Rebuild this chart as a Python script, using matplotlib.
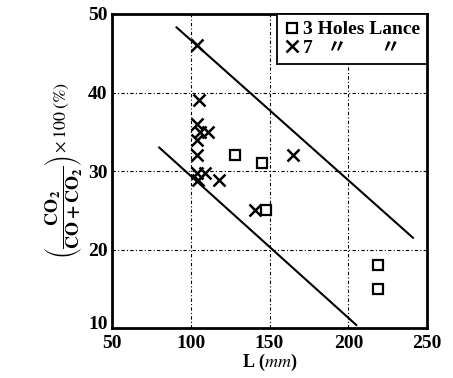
import numpy as np
import matplotlib
matplotlib.use('Agg')
import matplotlib.pyplot as plt
import matplotlib.transforms as mtransforms
from matplotlib.lines import Line2D

plt.rcParams['font.family'] = ['Liberation Serif', 'Noto Sans CJK JP', 'DejaVu Sans']
plt.rcParams['mathtext.fontset'] = 'stix'

# 3 holes lance (squares)
L3 = [128, 145, 148, 219, 219]
r3 = [32, 31, 25, 18, 15]

# 7 holes lance (crosses)
L7 = [104, 105, 104, 106, 111, 104, 104, 104, 104.5, 109, 118, 141, 165]
r7 = [46, 39, 36, 35, 35, 34, 32, 29.7, 28.9, 29.8, 28.8, 25, 32]

# band lines
upper_x = [91, 241]
upper_y = [48.3, 21.5]
lower_x = [80, 205]
lower_y = [33, 10.4]

fig = plt.figure(figsize=(4.53, 3.78), dpi=100)
ax = fig.add_axes([0.247, 0.132, 0.696, 0.831])

ax.plot(upper_x, upper_y, color='black', lw=1.5)
ax.plot(lower_x, lower_y, color='black', lw=1.5)
ax.plot(L7, r7, 'x', color='black', ms=8, mew=1.8, linestyle='none')
ax.plot(L3, r3, 's', mfc='white', mec='black', ms=7.5, mew=1.6, linestyle='none')

ax.set_xlim(50, 250)
ax.set_ylim(10, 50)
ax.set_xticks([50, 100, 150, 200, 250])
ax.set_yticks([10, 20, 30, 40, 50])
ax.grid(True, color='black', lw=0.8, linestyle=(0, (3, 2, 1, 2)))
ax.tick_params(axis='y', length=0, labelsize=14, pad=3)
ax.tick_params(axis='x', length=0, labelsize=14, pad=5)
for lab in ax.get_xticklabels() + ax.get_yticklabels():
    lab.set_fontweight('bold')
for sp in ax.spines.values():
    sp.set_linewidth(2)

# nudge the lowest y label up so it clears the "50" below
lab10 = ax.get_yticklabels()[0]
lab10.set_transform(lab10.get_transform() +
                    mtransforms.ScaledTranslation(0, 4 / 72, fig.dpi_scale_trans))

ax.set_xlabel(r'L ($\mathit{mm}$)', fontsize=13, fontweight='bold', labelpad=0)
ax.set_ylabel(r'$\left(\dfrac{\mathbf{CO_2}}{\mathbf{CO+CO_2}}\right)\times 100\,(\%)$',
              fontsize=13, labelpad=2)

handles = [Line2D([], [], marker='s', mfc='white', mec='black', ms=7.5, mew=1.6, ls='none'),
           Line2D([], [], marker='x', color='black', ms=8, mew=1.8, ls='none')]
leg = ax.legend(handles, ['3 Holes Lance', '7   〃       〃'], loc='upper right',
                borderaxespad=0, fancybox=False, framealpha=1, edgecolor='black',
                handlelength=0.8, handletextpad=0.2, borderpad=0.35, labelspacing=0.05,
                prop={'weight': 'bold', 'size': 14})
leg.get_frame().set_linewidth(1.3)

fig.savefig('out.png', dpi=100)
